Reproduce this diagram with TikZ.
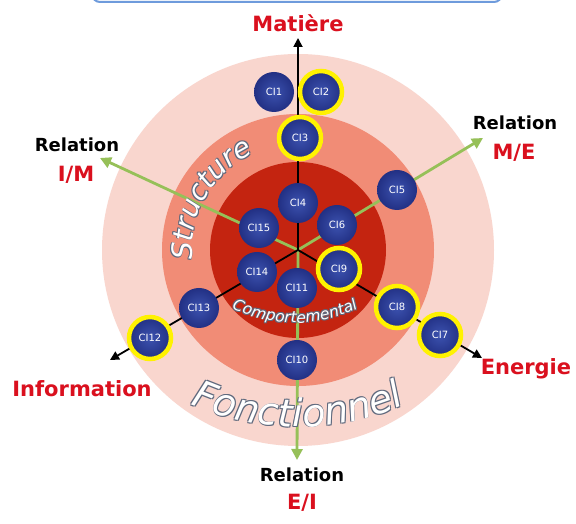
\documentclass[tikz,border=0pt]{standalone}
\usepackage{fontspec}
\setmainfont{DejaVu Sans}
\newfontfamily\curvefam{DejaVu Sans}
\usetikzlibrary{arrows.meta,decorations.text}
\definecolor{ringA}{RGB}{249,214,206}
\definecolor{ringB}{RGB}{241,140,118}
\definecolor{ringC}{RGB}{196,36,16}
\definecolor{labred}{RGB}{218,16,30}
\definecolor{gline}{RGB}{150,192,88}
\definecolor{bluein}{RGB}{60,82,175}
\definecolor{blueout}{RGB}{34,48,132}
\definecolor{hlyellow}{RGB}{255,242,0}
\definecolor{outc}{RGB}{95,105,125}
\definecolor{barc}{RGB}{110,155,220}
\newcommand\arctext[6]{%
 \foreach \dx/\dy in {0.8/0.8,-0.8/0.8,0.8/-0.8,-0.8/-0.8}{%
  \path[decorate,decoration={text along path,text align=center,text color=outc,
   text={|\curvefam\itshape\fontsize{#5}{#5}\selectfont|#6}}]
   ([shift={(\dx pt,\dy pt)}]#1) ++(#3:#2) arc[start angle=#3,end angle=#4,radius=#2];}%
 \path[decorate,decoration={text along path,text align=center,text color=white,
   text={|\curvefam\itshape\fontsize{#5}{#5}\selectfont|#6}}]
   (#1) ++(#3:#2) arc[start angle=#3,end angle=#4,radius=#2];%
}
\tikzset{
 ci/.style={circle,minimum size=40pt,inner sep=0pt,inner color=bluein,outer color=blueout,
   text=white,font=\fontsize{10}{10}\selectfont},
 hl/.style={ci,minimum size=42pt,postaction={draw=hlyellow,line width=4.5pt}},
 blackarrow/.style={draw=black,line width=1.8pt,-{Triangle[length=9pt,width=9pt]}},
 greenarrow/.style={draw=gline,line width=2.8pt,-{Triangle[length=11pt,width=11pt]}},
 redlab/.style={text=labred,font=\bfseries\fontsize{21}{21}\selectfont,anchor=base,inner sep=0pt},
 rellab/.style={text=black,font=\bfseries\fontsize{18}{18}\selectfont,anchor=base,inner sep=0pt}
}
\begin{document}
\begin{tikzpicture}[x=1pt,y=1pt]
\useasboundingbox (0,0) rectangle (576,524);
\fill[white] (0,0) rectangle (576,524);
% top bar
\draw[barc,line width=2pt,rounded corners=8pt] (92,540) -- (92,522) -- (502,522) -- (502,540);
% rings
\coordinate (C) at (298,274);
\fill[ringA] (C) circle[radius=196pt];
\fill[ringB] (C) circle[radius=136pt];
\fill[ringC] (C) circle[radius=88pt];
% arrow tips
\coordinate (tM) at (298,486);
\coordinate (tInfo) at (110,164);
\coordinate (tEn) at (482,166);
\coordinate (tIM) at (100,366);
\coordinate (tME) at (483,386);
\coordinate (tEI) at (297,64);
\draw[greenarrow] (C) -- (tIM);
\draw[greenarrow] (C) -- (tME);
\draw[greenarrow] (C) -- (tEI);
\draw[blackarrow] (C) -- (tM);
\draw[blackarrow] (C) -- (tInfo);
\draw[blackarrow] (C) -- (tEn);
% CI nodes
\node[ci] (ci1) at (274,432) {CI1};
\node[hl] (ci2) at (321,432) {CI2};
\node[hl] (ci3) at (300,386) {CI3};
\node[ci] (ci4) at (298,321) {CI4};
\node[ci] (ci15) at (259,296) {CI15};
\node[ci] (ci6) at (337,299) {CI6};
\node[ci] (ci5) at (397,334) {CI5};
\node[ci] (ci14) at (257,252) {CI14};
\node[ci] (ci11) at (297,236) {CI11};
\node[hl] (ci9) at (339,255) {CI9};
\node[ci] (ci13) at (199,216) {CI13};
\node[hl] (ci12) at (150,186) {CI12};
\node[hl] (ci8) at (397,217) {CI8};
\node[hl] (ci7) at (440,189) {CI7};
\node[ci] (ci10) at (297,164) {CI10};
% curved texts
\coordinate (CC) at (295,346);
\coordinate (CF) at (298,362);
\arctext{C}{106pt}{190}{110}{28}{Structure}
\arctext{CC}{145pt}{235}{305}{15.5}{Comportemental}
\arctext{CF}{265pt}{240}{300}{38}{Fonctionnel}
% labels
\node[redlab] (mat) at (298,492) {Matière};
\node[rellab] (rIM) at (77,372) {Relation};
\node[redlab] (IM) at (76,342) {I/M};
\node[rellab] (rME) at (515,394) {Relation};
\node[redlab] (ME) at (514,364) {M/E};
\node[redlab] (info) at (82,127) {Information};
\node[redlab] (en) at (526,149) {Energie};
\node[rellab] (rEI) at (302,42) {Relation};
\node[redlab] (EI) at (302,14) {E/I};
\end{tikzpicture}
\end{document}
